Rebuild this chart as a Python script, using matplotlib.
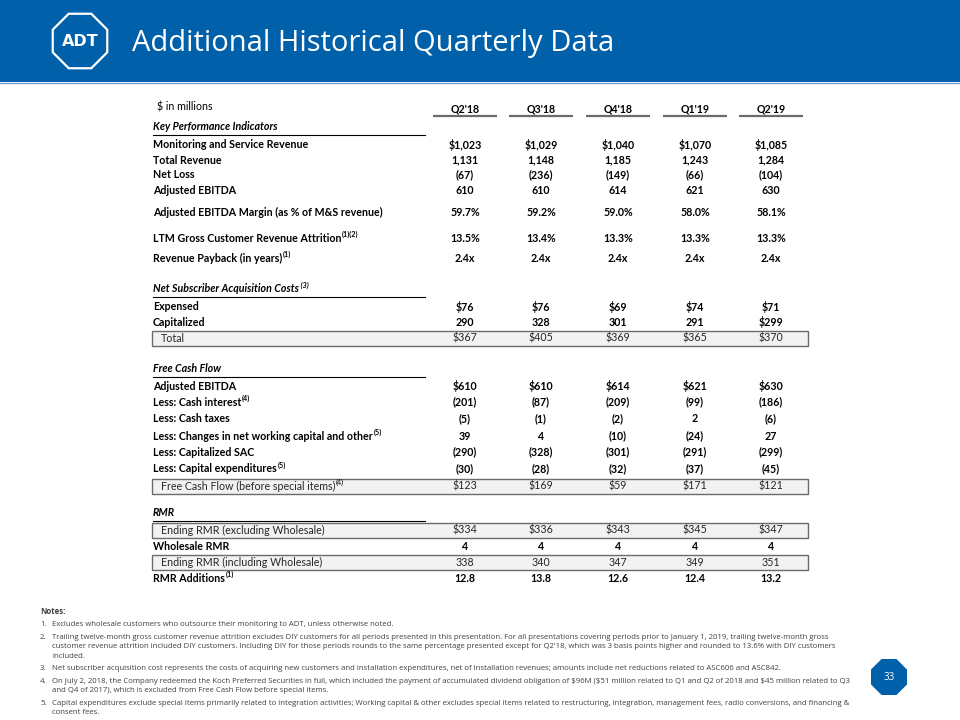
import matplotlib
matplotlib.use("Agg")
from matplotlib import pyplot as plt
from matplotlib.patches import Rectangle, RegularPolygon
import numpy as np

plt.rcParams["text.parse_math"] = False

# ---- data -------------------------------------------------------------
quarters = ["Q2'18", "Q3'18", "Q4'18", "Q1'19", "Q2'19"]

kpiLabels = ["Monitoring and Service Revenue", "Total Revenue", "Net Loss", "Adjusted EBITDA",
             "Adjusted EBITDA Margin (as % of M&S revenue)",
             "LTM Gross Customer Revenue Attrition", "Revenue Payback (in years)"]
kpiSups = [None, None, None, None, None, "(1)(2)", "(1)"]
kpiValues = [
    ["$1,023", "$1,029", "$1,040", "$1,070", "$1,085"],
    ["1,131", "1,148", "1,185", "1,243", "1,284"],
    ["(67)", "(236)", "(149)", "(66)", "(104)"],
    ["610", "610", "614", "621", "630"],
    ["59.7%", "59.2%", "59.0%", "58.0%", "58.1%"],
    ["13.5%", "13.4%", "13.3%", "13.3%", "13.3%"],
    ["2.4x", "2.4x", "2.4x", "2.4x", "2.4x"],
]

sacLabels = ["Expensed", "Capitalized", "Total"]
sacValues = [
    ["$76", "$76", "$69", "$74", "$71"],
    ["290", "328", "301", "291", "$299"],
    ["$367", "$405", "$369", "$365", "$370"],
]

fcfLabels = ["Adjusted EBITDA", "Less: Cash interest", "Less: Cash taxes",
             "Less: Changes in net working capital and other", "Less: Capitalized SAC",
             "Less: Capital expenditures", "Free Cash Flow (before special items)"]
fcfSups = [None, "(4)", None, "(5)", None, "(5)", "(4)"]
fcfValues = [
    ["$610", "$610", "$614", "$621", "$630"],
    ["(201)", "(87)", "(209)", "(99)", "(186)"],
    ["(5)", "(1)", "(2)", "2", "(6)"],
    ["39", "4", "(10)", "(24)", "27"],
    ["(290)", "(328)", "(301)", "(291)", "(299)"],
    ["(30)", "(28)", "(32)", "(37)", "(45)"],
    ["$123", "$169", "$59", "$171", "$121"],
]

rmrLabels = ["Ending RMR (excluding Wholesale)", "Wholesale RMR",
             "Ending RMR (including Wholesale)", "RMR Additions"]
rmrSups = [None, None, None, "(1)"]
rmrValues = [
    ["$334", "$336", "$343", "$345", "$347"],
    ["4", "4", "4", "4", "4"],
    ["338", "340", "347", "349", "351"],
    ["12.8", "13.8", "12.6", "12.4", "13.2"],
]

notes = [
    ("1.", ["Excludes wholesale customers who outsource their monitoring to ADT, unless otherwise noted."]),
    ("2.", ["Trailing twelve-month gross customer revenue attrition excludes DIY customers for all periods presented in this presentation. For all presentations covering periods prior to January 1, 2019, trailing twelve-month gross",
            "customer revenue attrition included DIY customers. Including DIY for those periods rounds to the same percentage presented except for Q2'18, which was 3 basis points higher and rounded to 13.6% with DIY customers",
            "included."]),
    ("3.", ["Net subscriber acquisition cost represents the costs of acquiring new customers and installation expenditures, net of installation revenues; amounts include net reductions related to ASC606 and ASC842."]),
    ("4.", ["On July 2, 2018, the Company redeemed the Koch Preferred Securities in full, which included the payment of accumulated dividend obligation of $96M ($51 million related to Q1 and Q2 of 2018 and $45 million related to Q3",
            "and Q4 of 2017), which is excluded from Free Cash Flow before special items."]),
    ("5.", ["Capital expenditures exclude special items primarily related to integration activities; Working capital & other excludes special items related to restructuring, integration, management fees, radio conversions, and financing &",
            "consent fees."]),
]

# ---- layout -----------------------------------------------------------
adtBlue = "#0060a9"
tableFont = "Lato"
noteFont = "Open Sans"
fs = 7.7
colX = [465, 541, 618, 695, 771]
labelX = 153
boxLeft, boxRight = 152, 808

kpiY = [145, 160, 175, 191, 212, 238, 258]
sacY = [307, 322, 338]
fcfY = [386, 402, 419, 436, 452, 469, 486]
rmrY = [530, 546, 562, 578]
sections = [("Key Performance Indicators", 127, None), ("Net Subscriber Acquisition Costs", 289, " (3)"),
            ("Free Cash Flow", 369, None), ("RMR", 513, None)]
boxedRows = {("sac", 2), ("fcf", 6), ("rmr", 0), ("rmr", 2)}

fig = plt.figure(figsize=(9.6, 7.2), dpi=100)
ax = fig.add_axes([0, 0, 1, 1])
ax.set_xlim(0, 960)
ax.set_ylim(720, 0)
ax.axis("off")
renderer = fig.canvas.get_renderer()

# header band
ax.add_patch(Rectangle((0, 0), 960, 82, facecolor=adtBlue, edgecolor="none", zorder=1))
ax.plot([0, 960], [82.5, 82.5], color="#6a9fd4", lw=1, zorder=2)
ax.add_patch(RegularPolygon((80, 41), 8, radius=29.5, orientation=np.pi / 8,
                            facecolor="none", edgecolor="white", lw=1.6, zorder=3))
ax.text(80, 42, "ADT", color="white", fontsize=11.5, fontweight="bold", family="DejaVu Sans",
        ha="center", va="center", zorder=4)
ax.text(132, 43, "Additional Historical Quarterly Data", color="white", fontsize=21,
        family="Open Sans", ha="left", va="center", zorder=4)


def addSup(t, sup, dy=-4):
    bb = t.get_window_extent(renderer)
    ax.text(bb.x1 + 0.5, t.get_position()[1] + dy, sup, fontsize=5.2, family=tableFont,
            fontweight=t.get_fontweight(), fontstyle=t.get_fontstyle(), ha="left", va="center")


# column header
ax.text(157, 107, "$ in millions", fontsize=fs, family=tableFont, ha="left", va="center")
for x, q in zip(colX, quarters):
    ax.text(x, 109, q, fontsize=fs, family=tableFont, fontweight="bold", ha="center", va="center")
    ax.plot([x - 32, x + 32], [116, 116], color="#6b6b6b", lw=1.6, solid_capstyle="butt")

# section headers
for name, y, sup in sections:
    t = ax.text(labelX, y, name, fontsize=fs, family=tableFont, fontstyle="italic",
                fontweight="bold", ha="left", va="center")
    if sup:
        addSup(t, sup)
    ax.plot([labelX, 425], [y + 8, y + 8], color="black", lw=0.8)


def drawRows(key, labels, values, ys, sups=None):
    for i, (lab, vals, y) in enumerate(zip(labels, values, ys)):
        boxed = (key, i) in boxedRows
        if boxed:
            ax.add_patch(Rectangle((boxLeft, y - 7.5), boxRight - boxLeft, 15, facecolor="#f2f2f2",
                                   edgecolor="#6b6b6b", lw=1.0, zorder=0.5))
        weight = "normal" if boxed else "bold"
        color = "#262626" if boxed else "black"
        t = ax.text(labelX + (8 if boxed else 0), y, lab, fontsize=fs, family=tableFont,
                    fontweight=weight, color=color, ha="left", va="center")
        if sups and sups[i]:
            addSup(t, sups[i])
        for x, v in zip(colX, vals):
            ax.text(x, y, v, fontsize=fs, family=tableFont, fontweight=weight, color=color,
                    ha="center", va="center")


drawRows("kpi", kpiLabels, kpiValues, kpiY, kpiSups)
drawRows("sac", sacLabels, sacValues, sacY)
drawRows("fcf", fcfLabels, fcfValues, fcfY, fcfSups)
drawRows("rmr", rmrLabels, rmrValues, rmrY, rmrSups)

# notes
noteFs = 5.6
noteY = 612
ax.text(40, noteY, "Notes:", fontsize=noteFs, family=noteFont, fontweight="bold", color="#404040",
        ha="left", va="center")
y = noteY + 13
for num, lines in notes:
    ax.text(40, y, num, fontsize=noteFs, family=noteFont, color="#404040", ha="left", va="center")
    for k, line in enumerate(lines):
        ax.text(52, y + 9.5 * k, line, fontsize=noteFs, family=noteFont, color="#404040",
                ha="left", va="center")
    y += 9.5 * (len(lines) - 1) + 12.5

# page badge
ax.add_patch(RegularPolygon((889, 677), 8, radius=19.5, orientation=np.pi / 8,
                            facecolor=adtBlue, edgecolor="none"))
ax.text(889, 677, "33", color="white", fontsize=7, family=noteFont, ha="center", va="center")

fig.savefig("out.png", dpi=100)
plt.close(fig)
